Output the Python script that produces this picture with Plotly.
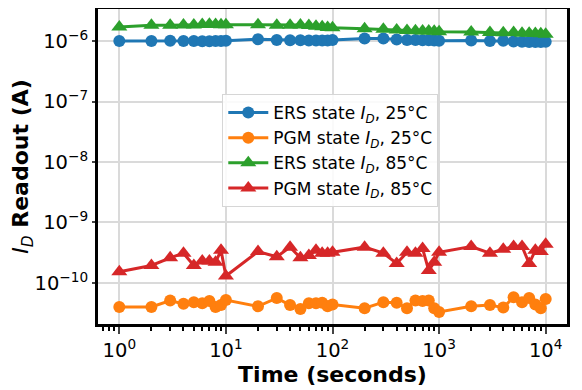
import plotly.graph_objects as go

# time points (seconds)
time_s = [1, 2, 3, 4, 5, 6, 7, 8, 9, 10,
          20, 30, 40, 50, 60, 70, 80, 90, 100,
          200, 300, 400, 500, 600, 700, 800, 900, 1000,
          2000, 3000, 4000, 5000, 6000, 7000, 8000, 9000, 10000]

# read-out currents (A)
ers_25 = [v * 1e-6 for v in [
    1.00, 1.00, 1.01, 1.00, 1.00, 0.99, 0.99, 1.00, 1.00, 1.01,
    1.07, 1.04, 1.03, 1.03, 1.02, 1.02, 1.02, 1.02, 1.04,
    1.10, 1.10, 1.06, 1.04, 1.04, 1.03, 1.03, 1.02, 1.01,
    1.02, 1.00, 1.01, 0.98, 0.97, 0.96, 0.96, 0.96, 0.97]]
pgm_25 = [v * 1e-11 for v in [
    4.0, 4.0, 5.1, 4.5, 4.8, 4.6, 5.0, 4.0, 4.3, 5.2,
    4.1, 5.6, 4.3, 3.7, 4.6, 4.6, 4.7, 4.1, 4.4,
    3.8, 4.8, 4.7, 3.8, 5.1, 5.0, 5.1, 3.8, 3.3,
    4.1, 4.3, 3.9, 5.8, 4.8, 5.6, 4.4, 3.8, 5.4]]
ers_85 = [v * 1e-6 for v in [
    1.70, 1.82, 1.83, 1.85, 1.85, 1.87, 1.90, 1.87, 1.86, 1.86,
    1.86, 1.82, 1.83, 1.84, 1.80, 1.76, 1.72, 1.68, 1.66,
    1.60, 1.56, 1.52, 1.50, 1.48, 1.47, 1.46, 1.45, 1.43,
    1.41, 1.38, 1.37, 1.38, 1.35, 1.34, 1.33, 1.32, 1.30]]
pgm_85 = [v * 1e-10 for v in [
    1.53, 1.94, 2.6, 3.1, 1.94, 2.3, 2.3, 2.2, 3.45, 1.3,
    3.3, 2.7, 3.9, 2.6, 2.85, 3.45, 3.1, 3.1, 3.2,
    3.9, 3.1, 2.1, 3.2, 3.1, 3.7, 1.6, 2.2, 3.2,
    4.0, 3.1, 3.6, 4.0, 4.0, 2.1, 3.45, 3.3, 4.35]]

x_tickvals = [1, 10, 100, 1000, 10000]
x_ticktext = ["10<sup>0</sup>", "10<sup>1</sup>", "10<sup>2</sup>", "10<sup>3</sup>", "10<sup>4</sup>"]
y_tickvals = [1e-10, 1e-9, 1e-8, 1e-7, 1e-6]
y_ticktext = ["10<sup>\u221210</sup>", "10<sup>\u22129</sup>", "10<sup>\u22128</sup>",
              "10<sup>\u22127</sup>", "10<sup>\u22126</sup>"]

ID = "<i>I</i><sub><i>D</i></sub>"
series = [
    ("ERS state " + ID + ", 25\u00b0C", ers_25, "#1f77b4", "circle", 12),
    ("PGM state " + ID + ", 25\u00b0C", pgm_25, "#ff7f0e", "circle", 12),
    ("ERS state " + ID + ", 85\u00b0C", ers_85, "#2ca02c", "triangle-up", 14),
    ("PGM state " + ID + ", 85\u00b0C", pgm_85, "#d62728", "triangle-up", 14),
]

fig = go.Figure()
for name, vals, color, sym, size in series:
    fig.add_trace(go.Scatter(
        x=time_s, y=vals, name=name, mode="lines+markers",
        line=dict(color=color, width=3),
        marker=dict(symbol=sym, size=size, color=color, line=dict(width=0)),
    ))

# page body has an 8px margin, so the figure is sized to fit the window
font = "DejaVu Sans, Arial, sans-serif"
fig.update_layout(
    width=574, height=382,
    paper_bgcolor="white", plot_bgcolor="white",
    margin=dict(l=90, r=15, t=1, b=66),
    font=dict(family=font, color="black"),
    legend=dict(
        x=0.265, y=0.73, xanchor="left", yanchor="top",
        bgcolor="rgba(255,255,255,0.85)", bordercolor="#d6d6d6", borderwidth=1,
        font=dict(size=17, family=font), itemwidth=40,
    ),
)
fig.update_xaxes(
    type="log", range=[-0.2, 4.2], automargin=False,
    tickvals=x_tickvals, ticktext=x_ticktext,
    tickfont=dict(size=19.5), ticks="outside", ticklen=7, tickwidth=2,
    showgrid=True, gridcolor="#dadada", gridwidth=1.5,
    showline=True, linecolor="black", linewidth=3, mirror=True,
    minor=dict(ticks="outside", ticklen=4, tickwidth=1.5, tickcolor="black",
               dtick="D1", showgrid=False),
    title=dict(text="<b>Time (seconds)</b>", font=dict(size=22), standoff=2),
)
fig.update_yaxes(
    type="log", range=[-10.68, -5.47], automargin=False,
    tickvals=y_tickvals, ticktext=y_ticktext,
    tickfont=dict(size=19.5), ticks="outside", ticklen=3, tickwidth=1.5,
    showgrid=True, gridcolor="#dadada", gridwidth=1.5,
    showline=True, linecolor="black", linewidth=3, mirror=True,
    title=dict(text=ID + "<b> Readout (A)</b>", font=dict(size=22), standoff=6),
)

fig.write_html("out.html")
